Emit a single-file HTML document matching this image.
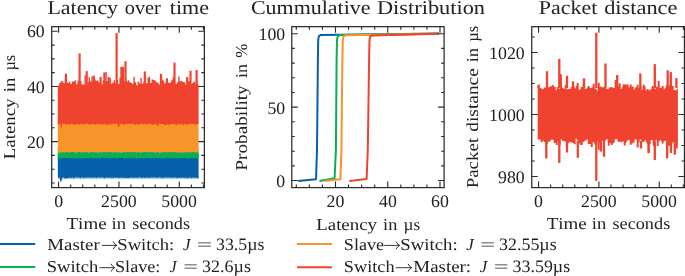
<!DOCTYPE html>
<html><head><meta charset="utf-8"><style>
html,body{margin:0;padding:0;background:#fff;width:685px;height:276px;overflow:hidden}
svg{display:block;font-family:"Liberation Serif",serif;will-change:transform}
text{font-kerning:none;text-rendering:geometricPrecision}
</style></head><body><svg width="685" height="276" viewBox="0 0 685 276"><rect x="57.8" y="177" width="140.8" height="2.1" fill="#0760ab" opacity="0.3"/><path d="M57.8,154.5H58.6V155.0H59.4V154.9H60.2V153.1H61.0V153.5H61.8V155.0H62.6V149.3H63.4V155.0H64.2V155.0H65.0V154.0H65.8V153.5H66.6V153.4H67.4V153.3H68.2V154.0H69.0V154.1H69.8V154.3H70.6V155.0H71.4V155.0H72.2V154.5H73.0V155.0H73.8V153.1H74.6V152.8H75.4V154.4H76.2V151.4H77.0V151.2H77.8V154.2H78.6V154.0H79.4V155.0H80.2V154.5H81.0V154.2H81.8V154.1H82.6V153.2H83.4V150.1H84.2V153.0H85.0V154.7H85.8V153.0H86.6V153.7H87.4V148.9H88.2V155.0H89.0V152.7H89.8V153.3H90.6V155.0H91.4V154.2H92.2V155.0H93.0V154.5H93.8V154.8H94.6V152.2H95.4V154.3H96.2V154.2H97.0V155.0H97.8V153.7H98.6V154.4H99.4V151.7H100.2V153.8H101.0V153.6H101.8V152.7H102.6V155.0H103.4V153.8H104.2V155.0H105.0V154.4H105.8V154.4H106.6V154.5H107.4V154.6H108.2V152.7H109.0V154.0H109.8V153.2H110.6V153.8H111.4V152.2H112.2V155.0H113.0V153.1H113.8V154.6H114.6V153.5H115.4V155.0H116.2V154.6H117.0V152.5H117.8V155.0H118.6V155.0H119.4V155.0H120.2V154.3H121.0V152.6H121.8V153.0H122.6V155.0H123.4V154.3H124.2V152.9H125.0V155.0H125.8V154.5H126.6V154.3H127.4V153.7H128.2V153.9H129.0V153.2H129.8V151.3H130.6V155.0H131.4V154.0H132.2V154.3H133.0V153.6H133.8V154.8H134.6V150.8H135.4V153.7H136.2V151.0H137.0V152.5H137.8V155.0H138.6V154.6H139.4V153.9H140.2V154.2H141.0V155.0H141.8V153.6H142.6V154.4H143.4V154.6H144.2V153.7H145.0V154.2H145.8V154.9H146.6V155.0H147.4V152.7H148.2V155.0H149.0V149.2H149.8V154.8H150.6V155.0H151.4V152.6H152.2V153.9H153.0V155.0H153.8V150.3H154.6V154.5H155.4V155.0H156.2V154.2H157.0V154.8H157.8V153.1H158.6V153.0H159.4V153.7H160.2V152.9H161.0V153.6H161.8V155.0H162.6V154.3H163.4V153.6H164.2V153.4H165.0V155.0H165.8V154.0H166.6V155.0H167.4V154.2H168.2V154.2H169.0V155.0H169.8V154.8H170.6V154.4H171.4V153.9H172.2V155.0H173.0V153.9H173.8V155.0H174.6V151.9H175.4V153.9H176.2V154.2H177.0V155.0H177.8V153.3H178.6V155.0H179.4V154.6H180.2V154.7H181.0V154.5H181.8V155.0H182.6V153.6H183.4V153.8H184.2V153.0H185.0V151.5H185.8V153.1H186.6V155.0H187.4V155.0H188.2V152.4H189.0V154.4H189.8V154.1H190.6V154.4H191.4V154.6H192.2V153.5H193.0V155.0H193.8V154.0H194.6V154.5H195.4V154.5H196.2V152.9H197.0V151.7H197.8V153.9H198.6V178.5H197.8V178.1H197.0V177.9H196.2V177.7H195.4V177.9H194.6V177.4H193.8V177.4H193.0V177.4H192.2V178.4H191.4V177.6H190.6V177.4H189.8V177.8H189.0V177.8H188.2V178.5H187.4V177.6H186.6V178.3H185.8V177.4H185.0V177.9H184.2V177.4H183.4V178.0H182.6V177.4H181.8V177.7H181.0V177.5H180.2V178.0H179.4V178.1H178.6V177.4H177.8V178.2H177.0V178.1H176.2V177.4H175.4V177.4H174.6V177.4H173.8V178.0H173.0V177.4H172.2V177.4H171.4V178.1H170.6V177.7H169.8V177.4H169.0V177.4H168.2V177.7H167.4V177.4H166.6V177.6H165.8V177.7H165.0V177.6H164.2V177.4H163.4V178.5H162.6V177.7H161.8V177.7H161.0V177.7H160.2V177.4H159.4V177.4H158.6V177.4H157.8V178.0H157.0V177.5H156.2V177.7H155.4V177.4H154.6V177.4H153.8V177.4H153.0V177.4H152.2V177.4H151.4V177.5H150.6V177.4H149.8V178.0H149.0V178.1H148.2V177.4H147.4V177.4H146.6V177.6H145.8V177.9H145.0V178.0H144.2V177.4H143.4V177.6H142.6V178.3H141.8V177.7H141.0V177.5H140.2V177.4H139.4V177.4H138.6V177.4H137.8V178.2H137.0V177.4H136.2V177.7H135.4V177.4H134.6V177.7H133.8V178.0H133.0V177.5H132.2V177.4H131.4V177.8H130.6V177.8H129.8V177.4H129.0V178.2H128.2V178.1H127.4V178.1H126.6V178.1H125.8V177.4H125.0V178.3H124.2V177.8H123.4V177.5H122.6V177.4H121.8V178.2H121.0V177.6H120.2V177.8H119.4V177.9H118.6V177.9H117.8V177.6H117.0V177.7H116.2V177.7H115.4V177.4H114.6V177.5H113.8V178.1H113.0V177.7H112.2V178.2H111.4V177.5H110.6V177.6H109.8V177.9H109.0V177.7H108.2V177.4H107.4V177.6H106.6V177.9H105.8V177.5H105.0V178.6H104.2V178.0H103.4V177.4H102.6V177.4H101.8V177.4H101.0V177.8H100.2V177.4H99.4V177.4H98.6V177.5H97.8V177.5H97.0V178.2H96.2V177.5H95.4V177.5H94.6V177.5H93.8V178.0H93.0V177.4H92.2V177.4H91.4V178.1H90.6V177.4H89.8V177.4H89.0V177.8H88.2V177.4H87.4V177.5H86.6V178.1H85.8V177.8H85.0V177.8H84.2V178.4H83.4V177.4H82.6V177.4H81.8V177.4H81.0V178.5H80.2V177.5H79.4V178.0H78.6V177.5H77.8V177.5H77.0V177.4H76.2V177.6H75.4V177.4H74.6V177.8H73.8V178.7H73.0V177.5H72.2V178.0H71.4V177.5H70.6V178.5H69.8V177.6H69.0V178.0H68.2V177.9H67.4V177.9H66.6V178.7H65.8V178.5H65.0V178.4H64.2V177.4H63.4V177.6H62.6V177.4H61.8V177.4H61.0V177.4H60.2V178.1H59.4V177.4H58.6V177.4H57.8Z" fill="#0760ab"/><polygon points="59.4,177 62.4,177 61.4,181.4 60.2,181.4" fill="#0760ab"/><path d="M57.8,148.8H58.6V148.8H59.4V149.0H60.2V149.0H61.0V148.8H61.8V149.0H62.6V148.9H63.4V149.0H64.2V148.9H65.0V149.0H65.8V149.0H66.6V149.0H67.4V148.9H68.2V149.0H69.0V149.0H69.8V148.8H70.6V148.8H71.4V148.8H72.2V149.0H73.0V149.0H73.8V148.9H74.6V149.0H75.4V148.9H76.2V149.0H77.0V149.0H77.8V149.0H78.6V148.7H79.4V148.9H80.2V149.0H81.0V148.7H81.8V148.9H82.6V149.0H83.4V149.0H84.2V149.0H85.0V149.0H85.8V149.0H86.6V149.0H87.4V149.0H88.2V149.0H89.0V149.0H89.8V148.9H90.6V148.8H91.4V149.0H92.2V148.8H93.0V149.0H93.8V149.0H94.6V148.9H95.4V149.0H96.2V148.8H97.0V149.0H97.8V148.8H98.6V149.0H99.4V149.0H100.2V149.0H101.0V148.9H101.8V149.0H102.6V149.0H103.4V149.0H104.2V149.0H105.0V148.9H105.8V148.9H106.6V149.0H107.4V149.0H108.2V148.9H109.0V149.0H109.8V148.9H110.6V149.0H111.4V149.0H112.2V148.7H113.0V149.0H113.8V148.6H114.6V149.0H115.4V149.0H116.2V148.9H117.0V149.0H117.8V149.0H118.6V149.0H119.4V148.8H120.2V149.0H121.0V149.0H121.8V149.0H122.6V148.7H123.4V148.9H124.2V149.0H125.0V149.0H125.8V148.7H126.6V149.0H127.4V148.9H128.2V148.8H129.0V149.0H129.8V148.8H130.6V148.9H131.4V149.0H132.2V149.0H133.0V149.0H133.8V149.0H134.6V149.0H135.4V149.0H136.2V149.0H137.0V149.0H137.8V149.0H138.6V148.9H139.4V149.0H140.2V148.9H141.0V149.0H141.8V148.9H142.6V149.0H143.4V149.0H144.2V149.0H145.0V148.9H145.8V149.0H146.6V148.9H147.4V149.0H148.2V149.0H149.0V148.9H149.8V149.0H150.6V148.7H151.4V148.9H152.2V149.0H153.0V149.0H153.8V149.0H154.6V149.0H155.4V149.0H156.2V149.0H157.0V148.9H157.8V148.8H158.6V148.9H159.4V148.9H160.2V148.9H161.0V149.0H161.8V148.9H162.6V148.9H163.4V148.9H164.2V149.0H165.0V149.0H165.8V149.0H166.6V148.9H167.4V148.9H168.2V149.0H169.0V149.0H169.8V149.0H170.6V148.7H171.4V149.0H172.2V148.9H173.0V149.0H173.8V148.8H174.6V148.9H175.4V149.0H176.2V149.0H177.0V149.0H177.8V149.0H178.6V149.0H179.4V148.9H180.2V149.0H181.0V148.9H181.8V148.9H182.6V149.0H183.4V149.0H184.2V148.7H185.0V149.0H185.8V149.0H186.6V148.9H187.4V148.7H188.2V149.0H189.0V148.9H189.8V149.0H190.6V148.9H191.4V149.0H192.2V148.9H193.0V149.0H193.8V149.0H194.6V149.0H195.4V148.9H196.2V149.0H197.0V148.9H197.8V148.9H198.6V158.0H197.8V158.5H197.0V158.1H196.2V157.9H195.4V158.0H194.6V157.9H193.8V158.0H193.0V158.3H192.2V158.0H191.4V158.0H190.6V157.8H189.8V158.1H189.0V158.7H188.2V158.5H187.4V158.2H186.6V158.9H185.8V158.3H185.0V157.8H184.2V158.2H183.4V158.1H182.6V157.8H181.8V158.4H181.0V158.8H180.2V157.9H179.4V158.2H178.6V158.1H177.8V159.5H177.0V157.8H176.2V157.8H175.4V158.0H174.6V158.8H173.8V157.9H173.0V158.1H172.2V157.8H171.4V158.6H170.6V158.8H169.8V158.1H169.0V158.0H168.2V158.3H167.4V157.8H166.6V157.9H165.8V158.4H165.0V158.1H164.2V158.8H163.4V158.5H162.6V158.3H161.8V158.4H161.0V158.8H160.2V158.3H159.4V158.3H158.6V158.2H157.8V157.8H157.0V158.1H156.2V158.3H155.4V157.9H154.6V158.4H153.8V157.9H153.0V157.8H152.2V159.1H151.4V158.2H150.6V157.9H149.8V157.9H149.0V158.2H148.2V157.9H147.4V158.0H146.6V157.9H145.8V158.3H145.0V157.8H144.2V158.2H143.4V158.0H142.6V158.3H141.8V158.0H141.0V157.9H140.2V158.3H139.4V158.7H138.6V157.8H137.8V158.1H137.0V159.0H136.2V158.1H135.4V158.6H134.6V157.8H133.8V158.6H133.0V157.9H132.2V158.3H131.4V157.8H130.6V158.3H129.8V158.4H129.0V158.0H128.2V157.9H127.4V158.6H126.6V158.4H125.8V157.9H125.0V159.7H124.2V158.2H123.4V157.8H122.6V158.0H121.8V157.8H121.0V158.3H120.2V157.8H119.4V158.2H118.6V158.3H117.8V158.5H117.0V158.6H116.2V158.8H115.4V158.3H114.6V157.9H113.8V157.8H113.0V158.2H112.2V157.9H111.4V157.9H110.6V159.2H109.8V158.1H109.0V158.3H108.2V158.0H107.4V157.8H106.6V158.1H105.8V158.0H105.0V158.0H104.2V158.0H103.4V157.8H102.6V157.8H101.8V157.8H101.0V159.0H100.2V158.3H99.4V158.6H98.6V157.8H97.8V157.8H97.0V158.4H96.2V157.9H95.4V158.0H94.6V158.0H93.8V158.9H93.0V158.0H92.2V157.8H91.4V157.8H90.6V158.5H89.8V157.8H89.0V158.2H88.2V158.2H87.4V158.0H86.6V158.5H85.8V157.9H85.0V158.3H84.2V158.5H83.4V158.1H82.6V159.3H81.8V158.1H81.0V158.5H80.2V158.5H79.4V159.1H78.6V157.8H77.8V158.3H77.0V158.5H76.2V158.6H75.4V158.6H74.6V158.0H73.8V158.2H73.0V158.6H72.2V158.1H71.4V158.2H70.6V158.4H69.8V158.3H69.0V157.9H68.2V157.9H67.4V158.0H66.6V158.0H65.8V157.8H65.0V158.1H64.2V157.9H63.4V158.3H62.6V158.6H61.8V158.5H61.0V157.9H60.2V157.9H59.4V158.2H58.6V158.8H57.8Z" fill="#07b055"/><path d="M57.8,120.8H58.6V121.0H59.4V121.0H60.2V120.8H61.0V121.0H61.8V121.0H62.6V120.9H63.4V120.9H64.2V120.9H65.0V121.0H65.8V121.0H66.6V121.0H67.4V120.8H68.2V121.0H69.0V121.0H69.8V120.8H70.6V120.9H71.4V120.8H72.2V121.0H73.0V121.0H73.8V120.7H74.6V120.9H75.4V120.8H76.2V121.0H77.0V121.0H77.8V120.7H78.6V120.8H79.4V121.0H80.2V121.0H81.0V121.0H81.8V120.9H82.6V120.8H83.4V120.9H84.2V121.0H85.0V121.0H85.8V120.8H86.6V121.0H87.4V120.9H88.2V121.0H89.0V120.6H89.8V121.0H90.6V120.8H91.4V121.0H92.2V121.0H93.0V121.0H93.8V120.8H94.6V120.8H95.4V120.9H96.2V120.7H97.0V120.9H97.8V120.8H98.6V121.0H99.4V120.9H100.2V121.0H101.0V120.9H101.8V120.7H102.6V120.9H103.4V121.0H104.2V120.9H105.0V120.9H105.8V121.0H106.6V120.9H107.4V121.0H108.2V121.0H109.0V120.9H109.8V121.0H110.6V120.9H111.4V120.8H112.2V120.9H113.0V121.0H113.8V121.0H114.6V120.8H115.4V121.0H116.2V121.0H117.0V120.8H117.8V121.0H118.6V121.0H119.4V120.8H120.2V121.0H121.0V120.8H121.8V120.8H122.6V120.9H123.4V121.0H124.2V120.7H125.0V121.0H125.8V121.0H126.6V120.7H127.4V121.0H128.2V121.0H129.0V121.0H129.8V121.0H130.6V121.0H131.4V121.0H132.2V120.8H133.0V121.0H133.8V120.9H134.6V121.0H135.4V121.0H136.2V121.0H137.0V120.9H137.8V120.9H138.6V121.0H139.4V121.0H140.2V120.9H141.0V121.0H141.8V120.9H142.6V120.9H143.4V121.0H144.2V121.0H145.0V120.9H145.8V120.9H146.6V120.9H147.4V120.8H148.2V120.7H149.0V121.0H149.8V121.0H150.6V121.0H151.4V121.0H152.2V120.9H153.0V120.9H153.8V120.9H154.6V120.9H155.4V121.0H156.2V120.9H157.0V120.9H157.8V121.0H158.6V120.8H159.4V120.8H160.2V121.0H161.0V121.0H161.8V120.9H162.6V121.0H163.4V120.7H164.2V120.9H165.0V121.0H165.8V120.9H166.6V120.9H167.4V121.0H168.2V121.0H169.0V120.8H169.8V121.0H170.6V120.8H171.4V121.0H172.2V120.9H173.0V120.9H173.8V120.9H174.6V121.0H175.4V120.9H176.2V121.0H177.0V121.0H177.8V121.0H178.6V120.7H179.4V121.0H180.2V121.0H181.0V121.0H181.8V120.9H182.6V120.9H183.4V120.5H184.2V120.7H185.0V121.0H185.8V120.7H186.6V120.9H187.4V120.9H188.2V120.7H189.0V120.7H189.8V121.0H190.6V120.9H191.4V120.9H192.2V121.0H193.0V120.5H193.8V120.9H194.6V121.0H195.4V121.0H196.2V121.0H197.0V120.8H197.8V120.9H198.6V152.0H197.8V152.0H197.0V152.2H196.2V152.7H195.4V152.2H194.6V152.3H193.8V151.9H193.0V152.3H192.2V152.1H191.4V152.2H190.6V152.7H189.8V152.2H189.0V152.0H188.2V151.9H187.4V152.7H186.6V152.4H185.8V152.1H185.0V152.2H184.2V152.8H183.4V152.5H182.6V152.6H181.8V153.4H181.0V151.9H180.2V152.4H179.4V153.2H178.6V151.9H177.8V152.7H177.0V152.8H176.2V152.1H175.4V151.9H174.6V152.2H173.8V152.3H173.0V151.9H172.2V152.4H171.4V152.0H170.6V152.5H169.8V151.9H169.0V152.2H168.2V152.3H167.4V152.4H166.6V152.1H165.8V152.5H165.0V152.3H164.2V152.3H163.4V152.1H162.6V152.6H161.8V152.7H161.0V152.5H160.2V153.4H159.4V152.7H158.6V151.9H157.8V152.0H157.0V152.7H156.2V152.7H155.4V152.4H154.6V152.2H153.8V152.5H153.0V152.2H152.2V152.1H151.4V151.9H150.6V151.9H149.8V152.5H149.0V151.9H148.2V152.6H147.4V152.0H146.6V151.9H145.8V151.9H145.0V151.9H144.2V152.1H143.4V152.8H142.6V152.1H141.8V152.5H141.0V152.9H140.2V152.4H139.4V152.3H138.6V152.2H137.8V152.0H137.0V153.0H136.2V151.9H135.4V152.1H134.6V152.4H133.8V152.0H133.0V152.4H132.2V152.0H131.4V152.4H130.6V151.9H129.8V152.2H129.0V152.2H128.2V151.9H127.4V151.9H126.6V152.6H125.8V152.1H125.0V152.4H124.2V152.2H123.4V152.3H122.6V152.2H121.8V153.3H121.0V152.5H120.2V153.0H119.4V152.1H118.6V152.3H117.8V153.0H117.0V152.2H116.2V151.9H115.4V152.2H114.6V152.6H113.8V152.0H113.0V153.4H112.2V151.9H111.4V152.5H110.6V152.1H109.8V152.0H109.0V152.1H108.2V151.9H107.4V152.3H106.6V152.6H105.8V152.7H105.0V151.9H104.2V151.9H103.4V152.3H102.6V152.2H101.8V152.2H101.0V153.0H100.2V152.1H99.4V151.9H98.6V153.0H97.8V152.8H97.0V152.2H96.2V151.9H95.4V152.4H94.6V152.4H93.8V151.9H93.0V151.9H92.2V152.2H91.4V152.0H90.6V152.6H89.8V152.3H89.0V153.5H88.2V152.2H87.4V152.4H86.6V152.3H85.8V151.9H85.0V152.5H84.2V151.9H83.4V151.9H82.6V153.1H81.8V152.6H81.0V152.3H80.2V152.0H79.4V151.9H78.6V152.1H77.8V152.7H77.0V152.9H76.2V151.9H75.4V153.4H74.6V152.2H73.8V152.1H73.0V151.9H72.2V151.9H71.4V152.1H70.6V152.5H69.8V152.8H69.0V152.1H68.2V152.2H67.4V152.1H66.6V152.0H65.8V152.8H65.0V152.4H64.2V152.4H63.4V151.9H62.6V152.6H61.8V152.8H61.0V152.1H60.2V152.7H59.4V153.2H58.6V152.5H57.8Z" fill="#f7942a"/><path d="M57.8,85.5H59.2V82.9H60.6V81.2H62.0V81.2H63.4V83.2H64.8V79.1H66.2V82.4H67.6V82.9H69.0V81.8H70.4V83.9H71.8V81.5H73.2V81.5H74.6V80.2H76.0V84.2H77.4V80.5H78.8V82.7H80.2V81.1H81.6V84.4H83.0V84.6H84.4V75.4H85.8V85.6H87.2V82.3H88.6V77.3H90.0V81.6H91.4V76.4H92.8V81.9H94.2V79.2H95.6V80.8H97.0V80.4H98.4V82.2H99.8V83.5H101.2V84.4H102.6V80.6H104.0V82.1H105.4V72.1H106.8V80.9H108.2V84.7H109.6V78.3H111.0V83.8H112.4V82.5H113.8V80.3H115.2V83.2H116.6V80.3H118.0V84.0H119.4V77.5H120.8V78.3H122.2V83.1H123.6V81.4H125.0V78.7H126.4V81.7H127.8V80.3H129.2V81.9H130.6V83.0H132.0V83.7H133.4V76.8H134.8V82.2H136.2V85.2H137.6V81.4H139.0V83.2H140.4V77.8H141.8V83.9H143.2V82.1H144.6V84.0H146.0V83.3H147.4V83.8H148.8V76.7H150.2V82.9H151.6V79.4H153.0V80.1H154.4V80.5H155.8V82.2H157.2V82.4H158.6V84.4H160.0V73.7H161.4V79.3H162.8V80.8H164.2V83.5H165.6V81.9H167.0V81.7H168.4V83.1H169.8V82.5H171.2V80.3H172.6V77.6H174.0V81.4H175.4V83.9H176.8V82.2H178.2V76.6H179.6V81.3H181.0V81.0H182.4V82.1H183.8V82.2H185.2V84.6H186.6V80.6H188.0V81.1H189.4V82.3H190.8V84.0H192.2V82.8H193.6V81.5H195.0V83.4H196.4V81.6H197.8V84.8H198.6V123.8H197.8V123.9H196.4V125.0H195.0V124.3H193.6V123.9H192.2V123.8H190.8V123.9H189.4V124.1H188.0V124.3H186.6V124.7H185.2V123.8H183.8V125.2H182.4V124.1H181.0V124.8H179.6V123.8H178.2V124.5H176.8V125.2H175.4V124.0H174.0V124.0H172.6V123.9H171.2V124.1H169.8V125.2H168.4V124.1H167.0V124.9H165.6V125.3H164.2V123.9H162.8V124.0H161.4V124.0H160.0V123.8H158.6V125.9H157.2V124.6H155.8V123.8H154.4V124.8H153.0V124.4H151.6V124.3H150.2V123.8H148.8V123.8H147.4V124.4H146.0V123.8H144.6V124.1H143.2V124.1H141.8V123.8H140.4V124.3H139.0V124.8H137.6V123.9H136.2V124.9H134.8V124.3H133.4V123.8H132.0V123.8H130.6V123.9H129.2V123.8H127.8V123.8H126.4V123.9H125.0V125.1H123.6V123.9H122.2V123.8H120.8V124.3H119.4V126.9H118.0V124.5H116.6V123.8H115.2V123.8H113.8V123.8H112.4V124.4H111.0V123.9H109.6V125.0H108.2V124.6H106.8V125.0H105.4V123.8H104.0V124.4H102.6V124.1H101.2V124.5H99.8V124.3H98.4V123.8H97.0V124.1H95.6V125.0H94.2V123.8H92.8V124.2H91.4V124.2H90.0V124.7H88.6V123.8H87.2V123.8H85.8V124.0H84.4V124.3H83.0V124.5H81.6V124.1H80.2V124.8H78.8V124.2H77.4V123.8H76.0V124.8H74.6V124.4H73.2V123.8H71.8V123.8H70.4V125.1H69.0V123.8H67.6V125.0H66.2V124.1H64.8V124.0H63.4V123.8H62.0V127.3H60.6V123.8H59.2V124.8H57.8Z" fill="#f0432f"/><line x1="79.6" y1="53.4" x2="79.6" y2="86.0" stroke="#f0432f" stroke-width="2.2"/><line x1="116.6" y1="33.1" x2="116.6" y2="86.0" stroke="#f0432f" stroke-width="2.2"/><line x1="125.5" y1="61.2" x2="125.5" y2="86.0" stroke="#f0432f" stroke-width="2.2"/><line x1="121.4" y1="66.8" x2="121.4" y2="86.0" stroke="#f0432f" stroke-width="2.2"/><line x1="123.0" y1="66.8" x2="123.0" y2="86.0" stroke="#f0432f" stroke-width="2.2"/><line x1="86.7" y1="71.1" x2="86.7" y2="86.0" stroke="#f0432f" stroke-width="2.2"/><line x1="65.9" y1="73.7" x2="65.9" y2="86.0" stroke="#f0432f" stroke-width="2.2"/><line x1="104.4" y1="72.4" x2="104.4" y2="86.0" stroke="#f0432f" stroke-width="2.2"/><line x1="93.8" y1="75.7" x2="93.8" y2="86.0" stroke="#f0432f" stroke-width="2.2"/><line x1="108.7" y1="77.0" x2="108.7" y2="86.0" stroke="#f0432f" stroke-width="2.2"/><line x1="100.6" y1="77.0" x2="100.6" y2="86.0" stroke="#f0432f" stroke-width="2.2"/><line x1="144.8" y1="71.4" x2="144.8" y2="86.0" stroke="#f0432f" stroke-width="2.2"/><line x1="161.0" y1="74.0" x2="161.0" y2="86.0" stroke="#f0432f" stroke-width="2.2"/><line x1="174.5" y1="62.6" x2="174.5" y2="86.0" stroke="#f0432f" stroke-width="2.2"/><line x1="190.5" y1="70.7" x2="190.5" y2="86.0" stroke="#f0432f" stroke-width="2.2"/><line x1="196.6" y1="70.0" x2="196.6" y2="86.0" stroke="#f0432f" stroke-width="2.2"/><line x1="148.6" y1="77.8" x2="148.6" y2="86.0" stroke="#f0432f" stroke-width="2.2"/><line x1="166.9" y1="78.3" x2="166.9" y2="86.0" stroke="#f0432f" stroke-width="2.2"/><line x1="187.2" y1="77.0" x2="187.2" y2="86.0" stroke="#f0432f" stroke-width="2.2"/><polyline points="298.20,181.00 316.00,179.20 317.00,150.00 317.90,60.00 318.20,40.00 318.80,36.30 320.50,34.90 438.80,33.40" fill="none" stroke="#0760ab" stroke-width="2" stroke-linejoin="round"/><polyline points="319.40,181.00 334.60,178.20 335.90,150.00 336.60,60.00 337.00,40.00 337.70,36.40 339.50,35.10 438.80,33.80" fill="none" stroke="#07b055" stroke-width="2" stroke-linejoin="round"/><polyline points="324.50,181.00 340.40,179.30 341.40,150.00 342.40,60.00 342.80,40.00 343.50,36.60 345.30,35.35 438.80,33.80" fill="none" stroke="#f7942a" stroke-width="2" stroke-linejoin="round"/><polyline points="349.30,181.00 366.60,179.00 367.80,150.00 369.10,60.00 369.50,40.00 370.20,36.60 372.00,35.60 438.80,33.70" fill="none" stroke="#f0432f" stroke-width="2" stroke-linejoin="round"/><path d="M537.7,85.4H538.7V85.4H539.7V87.9H540.7V88.3H541.7V88.9H542.7V89.3H543.7V87.5H544.7V87.5H545.7V88.0H546.7V87.6H547.7V87.3H548.7V87.3H549.7V86.6H550.7V86.2H551.7V85.0H552.7V85.0H553.7V86.7H554.7V86.7H555.7V90.3H556.7V87.1H557.7V87.1H558.7V88.9H559.7V87.2H560.7V87.2H561.7V87.8H562.7V87.8H563.7V89.1H564.7V84.8H565.7V84.8H566.7V89.2H567.7V89.2H568.7V89.0H569.7V89.0H570.7V87.0H571.7V87.0H572.7V86.4H573.7V86.4H574.7V88.2H575.7V85.7H576.7V82.9H577.7V82.9H578.7V90.0H579.7V89.2H580.7V86.9H581.7V86.9H582.7V83.6H583.7V83.6H584.7V88.7H585.7V88.7H586.7V87.8H587.7V86.0H588.7V86.0H589.7V88.0H590.7V88.0H591.7V87.3H592.7V83.7H593.7V83.7H594.7V88.5H595.7V88.9H596.7V90.7H597.7V82.8H598.7V82.8H599.7V86.4H600.7V86.4H601.7V87.4H602.7V86.9H603.7V86.9H604.7V88.1H605.7V88.4H606.7V89.0H607.7V89.0H608.7V87.4H609.7V87.4H610.7V87.1H611.7V87.1H612.7V87.9H613.7V87.9H614.7V80.1H615.7V80.1H616.7V85.9H617.7V85.9H618.7V83.3H619.7V83.3H620.7V89.1H621.7V87.2H622.7V84.2H623.7V84.2H624.7V84.6H625.7V84.6H626.7V84.5H627.7V84.5H628.7V87.2H629.7V84.4H630.7V84.4H631.7V86.5H632.7V86.5H633.7V89.5H634.7V87.2H635.7V87.2H636.7V84.8H637.7V84.8H638.7V87.8H639.7V86.6H640.7V86.6H641.7V89.7H642.7V84.7H643.7V84.7H644.7V86.7H645.7V90.2H646.7V88.9H647.7V88.9H648.7V90.6H649.7V89.7H650.7V89.1H651.7V86.0H652.7V86.0H653.7V87.3H654.7V88.9H655.7V86.7H656.7V86.7H657.7V80.7H658.7V80.7H659.7V87.8H660.7V87.8H661.7V86.1H662.7V86.1H663.7V89.2H664.7V88.0H665.7V85.6H666.7V85.6H667.7V87.5H668.7V85.6H669.7V83.8H670.7V83.8H671.7V86.1H672.7V86.1H673.7V90.1H674.7V90.2H675.7V90.3H676.7V89.1H677.7V85.5H677.9V144.9H677.7V148.4H676.7V148.4H675.7V141.8H674.7V142.1H673.7V142.1H672.7V143.3H671.7V143.4H670.7V146.0H669.7V146.0H668.7V145.4H667.7V145.4H666.7V140.6H665.7V141.0H664.7V141.0H663.7V143.4H662.7V143.4H661.7V141.1H660.7V140.0H659.7V141.5H658.7V145.9H657.7V145.9H656.7V139.8H655.7V141.7H654.7V145.8H653.7V145.8H652.7V140.0H651.7V140.0H650.7V144.2H649.7V152.9H648.7V152.9H647.7V143.4H646.7V141.9H645.7V140.0H644.7V141.8H643.7V141.9H642.7V141.9H641.7V140.2H640.7V138.9H639.7V142.3H638.7V147.5H637.7V147.5H636.7V139.7H635.7V139.2H634.7V142.4H633.7V142.4H632.7V143.5H631.7V144.8H630.7V144.8H629.7V139.9H628.7V139.9H627.7V140.9H626.7V142.5H625.7V145.6H624.7V145.6H623.7V141.3H622.7V142.3H621.7V142.3H620.7V141.5H619.7V142.1H618.7V142.1H617.7V139.6H616.7V139.3H615.7V139.3H614.7V142.8H613.7V143.4H612.7V144.9H611.7V144.9H610.7V142.9H609.7V145.8H608.7V145.8H607.7V139.0H606.7V139.7H605.7V141.1H604.7V141.1H603.7V140.9H602.7V140.9H601.7V142.7H600.7V142.7H599.7V149.8H598.7V149.8H597.7V141.1H596.7V144.9H595.7V144.9H594.7V143.4H593.7V141.9H592.7V147.1H591.7V147.1H590.7V143.9H589.7V144.1H588.7V144.1H587.7V139.5H586.7V140.6H585.7V140.6H584.7V141.4H583.7V141.9H582.7V144.9H581.7V144.9H580.7V144.8H579.7V143.3H578.7V141.3H577.7V139.9H576.7V138.6H575.7V144.2H574.7V144.2H573.7V143.0H572.7V143.0H571.7V142.0H570.7V142.2H569.7V142.2H568.7V143.4H567.7V143.4H566.7V141.8H565.7V141.8H564.7V141.2H563.7V140.7H562.7V140.7H561.7V139.2H560.7V145.3H559.7V145.3H558.7V141.5H557.7V145.1H556.7V145.1H555.7V143.1H554.7V143.1H553.7V139.7H552.7V139.7H551.7V139.7H550.7V141.3H549.7V141.7H548.7V141.7H547.7V143.9H546.7V143.9H545.7V142.0H544.7V141.9H543.7V140.7H542.7V142.3H541.7V142.3H540.7V139.6H539.7V139.6H538.7V139.4H537.7Z" fill="#f0432f"/><line x1="596.3" y1="32.7" x2="596.3" y2="88.0" stroke="#f0432f" stroke-width="2.3"/><line x1="559.3" y1="58.9" x2="559.3" y2="88.0" stroke="#f0432f" stroke-width="2.3"/><line x1="605.5" y1="63.5" x2="605.5" y2="88.0" stroke="#f0432f" stroke-width="2.3"/><line x1="547.0" y1="71.2" x2="547.0" y2="88.0" stroke="#f0432f" stroke-width="2.3"/><line x1="654.8" y1="64.1" x2="654.8" y2="88.0" stroke="#f0432f" stroke-width="2.3"/><line x1="667.7" y1="70.3" x2="667.7" y2="88.0" stroke="#f0432f" stroke-width="2.3"/><line x1="670.8" y1="72.1" x2="670.8" y2="88.0" stroke="#f0432f" stroke-width="2.3"/><line x1="617.2" y1="75.0" x2="617.2" y2="88.0" stroke="#f0432f" stroke-width="2.3"/><line x1="640.3" y1="73.4" x2="640.3" y2="88.0" stroke="#f0432f" stroke-width="2.3"/><line x1="567.0" y1="75.8" x2="567.0" y2="88.0" stroke="#f0432f" stroke-width="2.3"/><line x1="584.0" y1="78.3" x2="584.0" y2="88.0" stroke="#f0432f" stroke-width="2.3"/><line x1="573.0" y1="81.4" x2="573.0" y2="88.0" stroke="#f0432f" stroke-width="2.3"/><line x1="676.4" y1="78.0" x2="676.4" y2="88.0" stroke="#f0432f" stroke-width="2.3"/><line x1="560.8" y1="74.3" x2="560.8" y2="88.0" stroke="#f0432f" stroke-width="2.3"/><line x1="538.6" y1="84.5" x2="538.6" y2="88.0" stroke="#f0432f" stroke-width="2.3"/><line x1="596.3" y1="141.0" x2="596.3" y2="180.9" stroke="#f0432f" stroke-width="2.3"/><line x1="546.3" y1="141.0" x2="546.3" y2="158.4" stroke="#f0432f" stroke-width="2.3"/><line x1="559.3" y1="141.0" x2="559.3" y2="163.0" stroke="#f0432f" stroke-width="2.3"/><line x1="577.8" y1="141.0" x2="577.8" y2="157.8" stroke="#f0432f" stroke-width="2.3"/><line x1="654.8" y1="141.0" x2="654.8" y2="160.0" stroke="#f0432f" stroke-width="2.3"/><line x1="667.1" y1="141.0" x2="667.1" y2="158.4" stroke="#f0432f" stroke-width="2.3"/><line x1="567.0" y1="141.0" x2="567.0" y2="152.5" stroke="#f0432f" stroke-width="2.3"/><line x1="604.0" y1="141.0" x2="604.0" y2="156.8" stroke="#f0432f" stroke-width="2.3"/><line x1="648.6" y1="141.0" x2="648.6" y2="153.1" stroke="#f0432f" stroke-width="2.3"/><line x1="600.9" y1="141.0" x2="600.9" y2="151.6" stroke="#f0432f" stroke-width="2.3"/><line x1="641.0" y1="141.0" x2="641.0" y2="148.5" stroke="#f0432f" stroke-width="2.3"/><line x1="674.8" y1="141.0" x2="674.8" y2="154.7" stroke="#f0432f" stroke-width="2.3"/><line x1="671.0" y1="141.0" x2="671.0" y2="153.0" stroke="#f0432f" stroke-width="2.3"/><rect x="51.7" y="26.65" width="152.65" height="160.95" fill="none" stroke="#2b2b2b" stroke-width="1.25"/><path d="M58.60,187.6v-6.0M58.60,26.65v6.0M118.95,187.6v-6.0M118.95,26.65v6.0M179.30,187.6v-6.0M179.30,26.65v6.0M70.67,187.6v-3.0M70.67,26.65v3.0M82.74,187.6v-3.0M82.74,26.65v3.0M94.81,187.6v-3.0M94.81,26.65v3.0M106.88,187.6v-3.0M106.88,26.65v3.0M131.02,187.6v-3.0M131.02,26.65v3.0M143.09,187.6v-3.0M143.09,26.65v3.0M155.16,187.6v-3.0M155.16,26.65v3.0M167.23,187.6v-3.0M167.23,26.65v3.0M191.37,187.6v-3.0M191.37,26.65v3.0M203.44,187.6v-3.0M203.44,26.65v3.0M51.7,141.60h6.0M204.35,141.60h-6.0M51.7,86.45h6.0M204.35,86.45h-6.0M51.7,31.30h6.0M204.35,31.30h-6.0M51.7,182.96h3.0M204.35,182.96h-3.0M51.7,169.18h3.0M204.35,169.18h-3.0M51.7,155.39h3.0M204.35,155.39h-3.0M51.7,127.81h3.0M204.35,127.81h-3.0M51.7,114.03h3.0M204.35,114.03h-3.0M51.7,100.24h3.0M204.35,100.24h-3.0M51.7,72.66h3.0M204.35,72.66h-3.0M51.7,58.88h3.0M204.35,58.88h-3.0M51.7,45.09h3.0M204.35,45.09h-3.0" stroke="#2b2b2b" stroke-width="1.1" fill="none"/><rect x="291.8" y="26.65" width="152.30" height="160.95" fill="none" stroke="#2b2b2b" stroke-width="1.25"/><path d="M335.50,187.6v-6.0M335.50,26.65v6.0M387.75,187.6v-6.0M387.75,26.65v6.0M440.00,187.6v-6.0M440.00,26.65v6.0M296.31,187.6v-3.0M296.31,26.65v3.0M309.38,187.6v-3.0M309.38,26.65v3.0M322.44,187.6v-3.0M322.44,26.65v3.0M348.56,187.6v-3.0M348.56,26.65v3.0M361.62,187.6v-3.0M361.62,26.65v3.0M374.69,187.6v-3.0M374.69,26.65v3.0M400.81,187.6v-3.0M400.81,26.65v3.0M413.88,187.6v-3.0M413.88,26.65v3.0M426.94,187.6v-3.0M426.94,26.65v3.0M291.8,180.55h6.0M444.1,180.55h-6.0M291.8,107.14h6.0M444.1,107.14h-6.0M291.8,33.72h6.0M444.1,33.72h-6.0M291.8,165.87h3.0M444.1,165.87h-3.0M291.8,151.18h3.0M444.1,151.18h-3.0M291.8,136.50h3.0M444.1,136.50h-3.0M291.8,121.82h3.0M444.1,121.82h-3.0M291.8,92.45h3.0M444.1,92.45h-3.0M291.8,77.77h3.0M444.1,77.77h-3.0M291.8,63.09h3.0M444.1,63.09h-3.0M291.8,48.40h3.0M444.1,48.40h-3.0" stroke="#2b2b2b" stroke-width="1.1" fill="none"/><rect x="531.75" y="26.65" width="152.70" height="160.95" fill="none" stroke="#2b2b2b" stroke-width="1.25"/><path d="M538.55,187.6v-6.0M538.55,26.65v6.0M598.90,187.6v-6.0M598.90,26.65v6.0M659.25,187.6v-6.0M659.25,26.65v6.0M550.62,187.6v-3.0M550.62,26.65v3.0M562.69,187.6v-3.0M562.69,26.65v3.0M574.76,187.6v-3.0M574.76,26.65v3.0M586.83,187.6v-3.0M586.83,26.65v3.0M610.97,187.6v-3.0M610.97,26.65v3.0M623.04,187.6v-3.0M623.04,26.65v3.0M635.11,187.6v-3.0M635.11,26.65v3.0M647.18,187.6v-3.0M647.18,26.65v3.0M671.32,187.6v-3.0M671.32,26.65v3.0M683.39,187.6v-3.0M683.39,26.65v3.0M531.75,176.50h6.0M684.45,176.50h-6.0M531.75,114.50h6.0M684.45,114.50h-6.0M531.75,52.50h6.0M684.45,52.50h-6.0M531.75,161.00h3.0M684.45,161.00h-3.0M531.75,145.50h3.0M684.45,145.50h-3.0M531.75,130.00h3.0M684.45,130.00h-3.0M531.75,99.00h3.0M684.45,99.00h-3.0M531.75,83.50h3.0M684.45,83.50h-3.0M531.75,68.00h3.0M684.45,68.00h-3.0M531.75,37.00h3.0M684.45,37.00h-3.0" stroke="#2b2b2b" stroke-width="1.1" fill="none"/><line x1="0" y1="244.0" x2="35.2" y2="244.0" stroke="#0760ab" stroke-width="2.0"/><line x1="0" y1="267.0" x2="35.2" y2="267.0" stroke="#07b055" stroke-width="2.0"/><line x1="296.9" y1="244.1" x2="331.9" y2="244.1" stroke="#f7942a" stroke-width="2.0"/><line x1="296.9" y1="267.2" x2="331.9" y2="267.2" stroke="#f0432f" stroke-width="2.0"/><g font-family="Liberation Serif, serif" style="font-kerning:none"><text x="47.47" y="14.00" font-size="19.5" textLength="70.62" lengthAdjust="spacingAndGlyphs" fill="#222">Latency</text><text x="124.83" y="14.00" font-size="19.5" textLength="36.05" lengthAdjust="spacingAndGlyphs" fill="#222">over</text><text x="169.89" y="14.00" font-size="19.5" textLength="39.08" lengthAdjust="spacingAndGlyphs" fill="#222">time</text><text x="250.90" y="14.00" font-size="19.5" textLength="119.66" lengthAdjust="spacingAndGlyphs" fill="#222">Cummulative</text><text x="376.96" y="14.00" font-size="19.5" textLength="108.08" lengthAdjust="spacingAndGlyphs" fill="#222">Distribution</text><text x="538.87" y="14.00" font-size="19.5" textLength="58.36" lengthAdjust="spacingAndGlyphs" fill="#222">Packet</text><text x="604.19" y="14.00" font-size="19.5" textLength="73.28" lengthAdjust="spacingAndGlyphs" fill="#222">distance</text><text x="54.16" y="206.70" font-size="17.6" textLength="8.89" lengthAdjust="spacingAndGlyphs" fill="#222">0</text><text x="534.11" y="206.70" font-size="17.6" textLength="8.89" lengthAdjust="spacingAndGlyphs" fill="#222">0</text><text x="101.12" y="206.70" font-size="17.6" textLength="35.55" lengthAdjust="spacingAndGlyphs" fill="#222">2500</text><text x="581.07" y="206.70" font-size="17.6" textLength="35.55" lengthAdjust="spacingAndGlyphs" fill="#222">2500</text><text x="161.35" y="206.70" font-size="17.6" textLength="35.55" lengthAdjust="spacingAndGlyphs" fill="#222">5000</text><text x="641.30" y="206.70" font-size="17.6" textLength="35.55" lengthAdjust="spacingAndGlyphs" fill="#222">5000</text><text x="326.56" y="206.70" font-size="17.6" textLength="17.78" lengthAdjust="spacingAndGlyphs" fill="#222">20</text><text x="379.03" y="206.70" font-size="17.6" textLength="17.78" lengthAdjust="spacingAndGlyphs" fill="#222">40</text><text x="431.07" y="206.70" font-size="17.6" textLength="17.78" lengthAdjust="spacingAndGlyphs" fill="#222">60</text><text x="26.90" y="147.70" font-size="17.6" textLength="17.78" lengthAdjust="spacingAndGlyphs" fill="#222">20</text><text x="26.90" y="92.55" font-size="17.6" textLength="17.78" lengthAdjust="spacingAndGlyphs" fill="#222">40</text><text x="26.90" y="37.40" font-size="17.6" textLength="17.78" lengthAdjust="spacingAndGlyphs" fill="#222">60</text><text x="276.29" y="187.05" font-size="17.6" textLength="8.89" lengthAdjust="spacingAndGlyphs" fill="#222">0</text><text x="267.40" y="113.64" font-size="17.6" textLength="17.78" lengthAdjust="spacingAndGlyphs" fill="#222">50</text><text x="258.51" y="40.22" font-size="17.6" textLength="26.66" lengthAdjust="spacingAndGlyphs" fill="#222">100</text><text x="498.01" y="182.60" font-size="17.6" textLength="26.66" lengthAdjust="spacingAndGlyphs" fill="#222">980</text><text x="489.13" y="120.60" font-size="17.6" textLength="35.55" lengthAdjust="spacingAndGlyphs" fill="#222">1000</text><text x="489.13" y="58.60" font-size="17.6" textLength="35.55" lengthAdjust="spacingAndGlyphs" fill="#222">1020</text><text x="66.56" y="229.40" font-size="16.7" textLength="40.00" lengthAdjust="spacingAndGlyphs" fill="#222">Time</text><text x="111.61" y="229.40" font-size="16.7" textLength="14.47" lengthAdjust="spacingAndGlyphs" fill="#222">in</text><text x="132.25" y="229.40" font-size="16.7" textLength="57.81" lengthAdjust="spacingAndGlyphs" fill="#222">seconds</text><text x="316.26" y="229.60" font-size="16.7" textLength="60.72" lengthAdjust="spacingAndGlyphs" fill="#222">Latency</text><text x="383.12" y="229.60" font-size="16.7" textLength="14.26" lengthAdjust="spacingAndGlyphs" fill="#222">in</text><text x="403.54" y="229.60" font-size="16.7" textLength="16.68" lengthAdjust="spacingAndGlyphs" fill="#222">µs</text><text x="546.76" y="229.30" font-size="16.7" textLength="40.00" lengthAdjust="spacingAndGlyphs" fill="#222">Time</text><text x="591.81" y="229.30" font-size="16.7" textLength="14.47" lengthAdjust="spacingAndGlyphs" fill="#222">in</text><text x="612.45" y="229.30" font-size="16.7" textLength="57.81" lengthAdjust="spacingAndGlyphs" fill="#222">seconds</text><text transform="rotate(-90)" x="-159.24" y="15.40" font-size="16.7" textLength="60.72" lengthAdjust="spacingAndGlyphs" fill="#222">Latency</text><text transform="rotate(-90)" x="-92.20" y="15.40" font-size="16.7" textLength="14.68" lengthAdjust="spacingAndGlyphs" fill="#222">in</text><text transform="rotate(-90)" x="-70.52" y="15.40" font-size="16.7" textLength="15.71" lengthAdjust="spacingAndGlyphs" fill="#222">µs</text><text transform="rotate(-90)" x="-170.65" y="247.20" font-size="16.7" textLength="85.33" lengthAdjust="spacingAndGlyphs" fill="#222">Probability</text><text transform="rotate(-90)" x="-78.08" y="247.20" font-size="16.7" textLength="14.05" lengthAdjust="spacingAndGlyphs" fill="#222">in</text><text transform="rotate(-90)" x="-57.78" y="247.20" font-size="16.7" textLength="14.05" lengthAdjust="spacingAndGlyphs" fill="#222">%</text><text transform="rotate(-90)" x="-188.35" y="477.90" font-size="16.7" textLength="50.56" lengthAdjust="spacingAndGlyphs" fill="#222">Packet</text><text transform="rotate(-90)" x="-131.80" y="477.90" font-size="16.7" textLength="63.68" lengthAdjust="spacingAndGlyphs" fill="#222">distance</text><text transform="rotate(-90)" x="-62.39" y="477.90" font-size="16.7" textLength="14.47" lengthAdjust="spacingAndGlyphs" fill="#222">in</text><text transform="rotate(-90)" x="-41.84" y="477.90" font-size="16.7" textLength="16.04" lengthAdjust="spacingAndGlyphs" fill="#222">µs</text><text x="47.36" y="249.90" font-size="16.7" textLength="52.31" lengthAdjust="spacingAndGlyphs" fill="#222">Master</text><text x="117.25" y="249.90" font-size="16.7" textLength="57.06" lengthAdjust="spacingAndGlyphs" fill="#222">Switch:</text><text x="183.04" y="249.90" font-size="16.7" font-style="italic" textLength="7.50" lengthAdjust="spacingAndGlyphs" fill="#222">J</text><text x="196.83" y="249.90" font-size="16.7" textLength="15.51" lengthAdjust="spacingAndGlyphs" fill="#222">=</text><text x="216.05" y="249.90" font-size="17.4" textLength="48.40" lengthAdjust="spacingAndGlyphs" fill="#222">33.5µs</text><text x="46.66" y="272.20" font-size="16.7" textLength="51.59" lengthAdjust="spacingAndGlyphs" fill="#222">Switch</text><text x="114.99" y="272.20" font-size="16.7" textLength="45.39" lengthAdjust="spacingAndGlyphs" fill="#222">Slave:</text><text x="169.56" y="272.20" font-size="16.7" font-style="italic" textLength="7.12" lengthAdjust="spacingAndGlyphs" fill="#222">J</text><text x="183.39" y="272.20" font-size="16.7" textLength="14.79" lengthAdjust="spacingAndGlyphs" fill="#222">=</text><text x="202.14" y="272.20" font-size="17.4" textLength="48.81" lengthAdjust="spacingAndGlyphs" fill="#222">32.6µs</text><text x="343.89" y="249.90" font-size="16.7" textLength="40.24" lengthAdjust="spacingAndGlyphs" fill="#222">Slave</text><text x="400.35" y="249.90" font-size="16.7" textLength="57.27" lengthAdjust="spacingAndGlyphs" fill="#222">Switch:</text><text x="466.34" y="249.90" font-size="16.7" font-style="italic" textLength="7.50" lengthAdjust="spacingAndGlyphs" fill="#222">J</text><text x="480.18" y="249.90" font-size="16.7" textLength="14.91" lengthAdjust="spacingAndGlyphs" fill="#222">=</text><text x="499.04" y="249.90" font-size="17.4" textLength="57.60" lengthAdjust="spacingAndGlyphs" fill="#222">32.55µs</text><text x="343.88" y="272.20" font-size="16.7" textLength="50.66" lengthAdjust="spacingAndGlyphs" fill="#222">Switch</text><text x="413.36" y="272.20" font-size="16.7" textLength="57.78" lengthAdjust="spacingAndGlyphs" fill="#222">Master:</text><text x="479.84" y="272.20" font-size="16.7" font-style="italic" textLength="7.50" lengthAdjust="spacingAndGlyphs" fill="#222">J</text><text x="493.68" y="272.20" font-size="16.7" textLength="14.91" lengthAdjust="spacingAndGlyphs" fill="#222">=</text><text x="512.54" y="272.20" font-size="17.4" textLength="57.60" lengthAdjust="spacingAndGlyphs" fill="#222">33.59µs</text><path d="M101.80,245.40H116.50M113.10,241.50Q114.20,244.20 116.80,245.40Q114.20,246.60 113.10,249.30M99.50,267.70H114.40M111.00,263.80Q112.10,266.50 114.70,267.70Q112.10,268.90 111.00,271.60M384.20,245.40H399.40M396.00,241.50Q397.10,244.20 399.70,245.40Q397.10,246.60 396.00,249.30M395.80,267.70H411.40M408.00,263.80Q409.10,266.50 411.70,267.70Q409.10,268.90 408.00,271.60" fill="none" stroke="#222" stroke-width="0.9" stroke-linecap="butt"/></g></svg></body></html>
